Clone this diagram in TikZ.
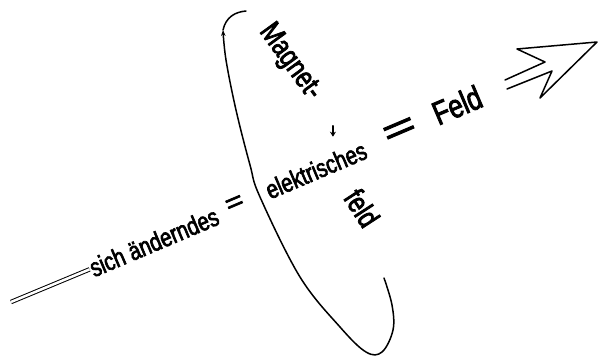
\documentclass[tikz,border=0pt]{standalone}
\usepackage{fontspec}
\setmainfont{Liberation Sans}
\newfontfamily\hand[FakeStretch=0.78, FakeBold=2.5]{Liberation Sans}
\usetikzlibrary{arrows.meta,calc}
\definecolor{ink}{HTML}{000000}

\begin{document}
\begin{tikzpicture}[
  x=1pt, y=-1pt,
  >={Stealth[length=6pt]},
  word/.style={text=ink, inner sep=1pt, rotate=23, font=\hand\fontsize{26}{28}\selectfont},
  upword/.style={text=ink, inner sep=1pt, font=\hand\fontsize{30}{32}\selectfont},
  pen/.style={draw=ink, line width=1.5pt, line cap=round, line join=round}
]
\useasboundingbox (0,0) rectangle (599,356);

\node[word] (sich) at (154,242) {sich änderndes};
\node[word, xscale=1.5] (eq1) at (235,204) {=};
\node[word] (elek) at (316,170) {elektrisches};
\node[word, font=\hand\fontsize{36}{38}\selectfont, xscale=2] (eq2) at (400,131) {=};
\node[word, font=\hand\fontsize{33}{35}\selectfont] (feld) at (457,105) {Feld};
\node[upword, rotate=-54] (magnet) at (290,62) {Magnet-};
\node[upword, rotate=-57] (feld2) at (362,208) {feld};

% tail of the field line
\coordinate (tail) at (11,302);
\draw[draw=ink, line width=1pt, double=white, double distance=2.5pt] (tail) -- (sich.west);

% magnetic loop round the electric field
\draw[pen, ->] plot[smooth, tension=0.6] coordinates {(384,278) (392,305) (393,330) (382,352) (366,352) (340,327) (300,277) (260,197) (250,165) (236,110) (226,60) (223,30)};
\draw[pen] (223,30) .. controls (226,17) and (235,12) .. (246,11);

\draw[pen, line width=1.2pt, -{Stealth[length=5pt, width=6pt]}] ($(magnet.east)+(17,28)$) -- ++(0,11);

% big open arrow
\draw[pen] (505,80) -- (545,62) -- (517,49) -- (597,42) -- (540,98) -- (552,71) -- (507,89);
\end{tikzpicture}
\end{document}
